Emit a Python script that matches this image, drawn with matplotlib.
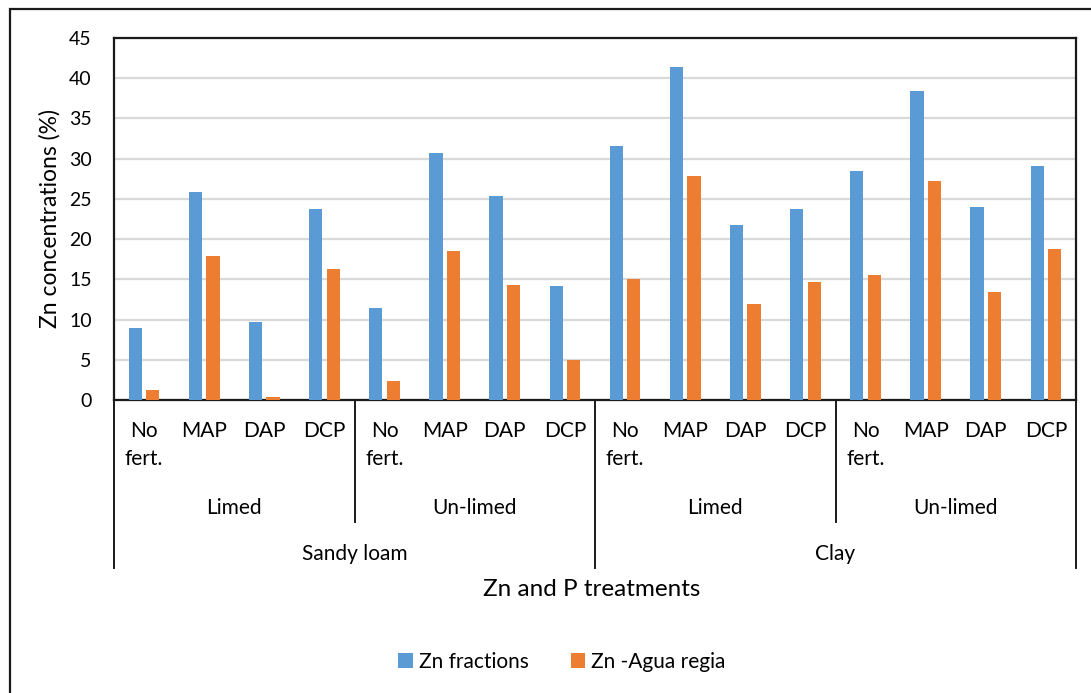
import matplotlib
import matplotlib.pyplot as plt
from matplotlib.patches import Rectangle
from matplotlib.lines import Line2D
import numpy as np

matplotlib.use("Agg")
plt.rcParams["font.family"] = ["Lato", "DejaVu Sans"]

# data
treatments = ["No\nfert.", "MAP", "DAP", "DCP"] * 4
liming = ["Limed", "Un-limed", "Limed", "Un-limed"]
soils = ["Sandy loam", "Clay"]
zn_fractions = [9.0, 25.8, 9.7, 23.7, 11.45, 30.7, 25.35, 14.2,
                31.6, 41.4, 21.7, 23.7, 28.5, 38.4, 24.0, 29.1]
zn_aqua_regia = [1.25, 17.9, 0.33, 16.3, 2.4, 18.5, 14.3, 5.0,
                 15.1, 27.8, 11.95, 14.65, 15.5, 27.2, 13.45, 18.75]

W, H = 1091, 693
fig = plt.figure(figsize=(W / 100, H / 100), dpi=100)

# plot area in pixels
L, R, T, B = 114, 1076, 38, 400
ax = fig.add_axes([L / W, 1 - B / H, (R - L) / W, (B - T) / H])

x = np.arange(len(zn_fractions))
bw = 0.22
ax.bar(x - 0.145, zn_fractions, bw, color="#5B9BD5", label="Zn fractions", zorder=3)
ax.bar(x + 0.145, zn_aqua_regia, bw, color="#ED7D31", label="Zn -Agua regia", zorder=3)

ax.set_xlim(-0.5, len(x) - 0.5)
ax.set_ylim(0, 45)
ax.set_yticks(np.arange(0, 46, 5))
ax.set_xticks([])
ax.tick_params(axis="y", length=0, pad=16, labelsize=14)
ax.yaxis.grid(True, color="#D9D9D9", linewidth=1.6, zorder=0)
for s in ax.spines.values():
    s.set_linewidth(1.6)
    s.set_color("#1a1a1a")
ax.set_ylabel("Zn concentrations (%)", fontsize=16.5, labelpad=6)


def ay(py):
    # pixel y -> axes fraction
    return (B - py) / (B - T)


tr = ax.get_xaxis_transform()
for i, lab in enumerate(treatments):
    ax.text(i, ay(421), lab, transform=tr, ha="center", va="top",
            fontsize=15, linespacing=1.5)

for g, lab in enumerate(liming):
    ax.text(g * 4 + 1.5, ay(508), lab, transform=tr, ha="center", va="center", fontsize=15)
for g, lab in enumerate(soils):
    ax.text(g * 8 + 3.5, ay(554), lab, transform=tr, ha="center", va="center", fontsize=15)

# category separators
for g in range(len(liming) + 1):
    xv = g * 4 - 0.5
    bottom = 568 if g % 2 == 0 else 522
    ax.add_line(Line2D([xv, xv], [0, ay(bottom)], transform=tr, color="#1a1a1a",
                       linewidth=1.4, clip_on=False))

fig.text(592 / W, 1 - 590 / H, "Zn and P treatments", ha="center",
         va="center", fontsize=17.5)

fig.legend(loc="center", bbox_to_anchor=(562 / W, 1 - 662 / H), ncol=2, frameon=False,
           fontsize=15, handlelength=0.7, handleheight=0.7, handletextpad=0.3,
           columnspacing=2.0)

# outer chart frame
fig.patches.append(Rectangle((10 / W, -0.1), 1.2, 1.1 - 9 / H, transform=fig.transFigure,
                             fill=False, edgecolor="#1a1a1a", linewidth=1.6))

fig.savefig("out.png", dpi=100)
